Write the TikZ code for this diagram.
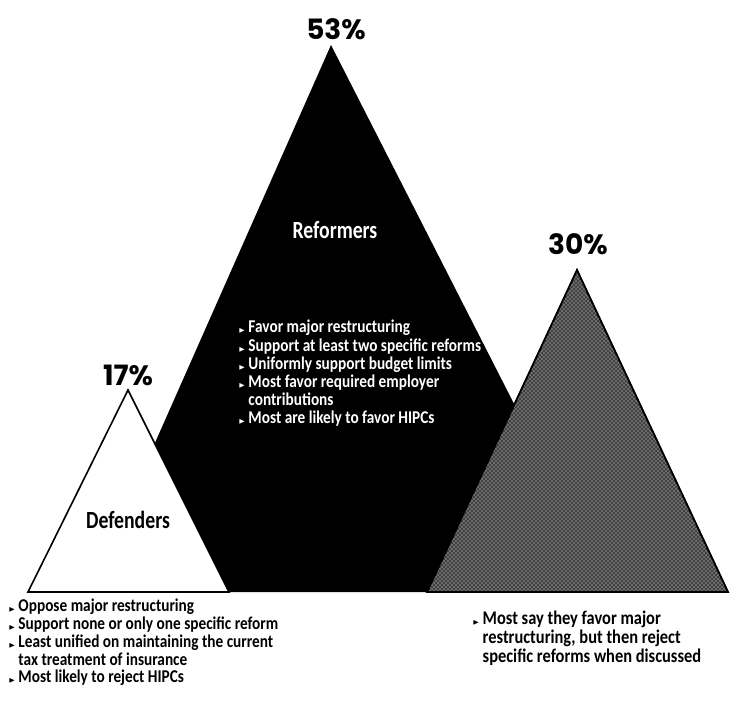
\documentclass[tikz,border=0pt]{standalone}
\usepackage{amssymb}
\usepackage{fontspec}
\setmainfont{Carlito}
\newfontfamily\condfont[FakeStretch=0.8]{Carlito}
\newfontfamily\notefont[FakeStretch=0.85]{Carlito}
\newfontfamily\pctfont{Poppins}
\usetikzlibrary{patterns,positioning}
\tikzset{>=latex}
% small arrow bullet and hanging indent
\newcommand{\bul}{{\tiny$\blacktriangleright$}\,}
\newcommand{\hang}{\phantom{\bul}}

\begin{document}
\begin{tikzpicture}[x=0.75pt,y=-0.75pt,
  pct/.style={font=\pctfont\bfseries\fontsize{21}{21}\selectfont, inner sep=0pt, anchor=base},
  groupname/.style={font=\condfont\bfseries\fontsize{18.5}{18.5}\selectfont, inner sep=0pt, anchor=base},
  note/.style={align=left, inner sep=0pt, anchor=north west,
    font=\notefont\bfseries\fontsize{13.5}{13.6}\selectfont},
  pyramid/.style={draw=black, line width=1.2pt, line join=miter}]
  \useasboundingbox (0,0) rectangle (732,709);

  % apexes and base corners
  \coordinate (refTop) at (331,45);
  \coordinate (refL) at (89,592);
  \coordinate (refR) at (610,592);
  \coordinate (defTop) at (128,390);
  \coordinate (defL) at (28,592);
  \coordinate (defR) at (229,592);
  \coordinate (undTop) at (577,270);
  \coordinate (undL) at (427,592);
  \coordinate (undR) at (728,592);

  % the three pyramids
  \fill[black] (refTop) -- (refR) -- (refL) -- cycle;
  \filldraw[pyramid, fill=white] (defTop) -- (defR) -- (defL) -- cycle;
  \filldraw[pyramid, fill=black!75] (undTop) -- (undR) -- (undL) -- cycle;
  \fill[pattern=crosshatch dots, pattern color=white] (undTop) -- (undR) -- (undL) -- cycle;
  \draw[pyramid] (undTop) -- (undR) -- (undL) -- cycle;

  % percentages
  \node[pct] (refPct) at (336,40) {53\%};
  \node[pct] (defPct) at (128,385) {17\%};
  \node[pct] (undPct) at (578,255) {30\%};

  % group names
  \node[groupname, text=white] (refName) at (335,239) {Reformers};
  \node[groupname] (defName) at (128,528) {Defenders};

  % notes
  \node[note, text=white] (refNote) at (238,320) {%
    \bul Favor major restructuring\\
    \bul Support at least two specific reforms\\
    \bul Uniformly support budget limits\\
    \bul Most favor required employer\\
    \hang contributions\\
    \bul Most are likely to favor HIPCs};
  \node[note, font=\notefont\bfseries\fontsize{13.5}{13.3}\selectfont] (defNote) at (8,599) {%
    \bul Oppose major restructuring\\
    \bul Support none or only one specific reform\\
    \bul Least unified on maintaining the current\\
    \hang tax treatment of insurance\\
    \bul Most likely to reject HIPCs};
  \node[note, font=\notefont\bfseries\fontsize{14.5}{14.2}\selectfont] (undNote) at (472,611) {%
    \bul Most say they favor major\\
    \hang restructuring, but then reject\\
    \hang specific reforms when discussed};
\end{tikzpicture}
\end{document}
